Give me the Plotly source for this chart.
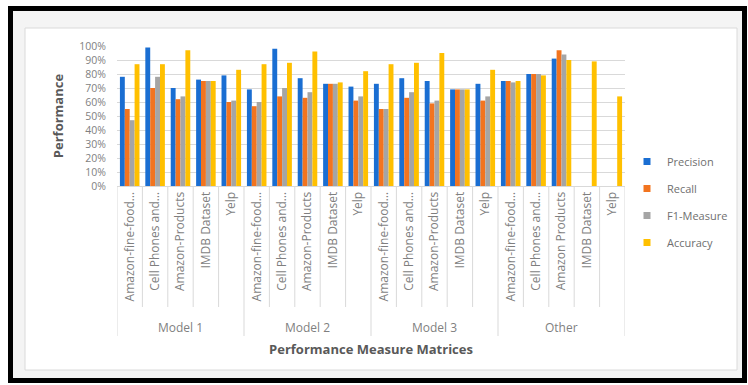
import plotly.graph_objects as go

groups = ["Model 1"] * 5 + ["Model 2"] * 5 + ["Model 3"] * 5 + ["Other"] * 5
datasets = [
    "Amazon-fine-food…", "Cell Phones and…", "Amazon-Products", "IMDB Dataset", "Yelp",
    "Amazon-fine-food…", "Cell Phones and…", "Amazon-Products", "IMDB Dataset", "Yelp",
    "Amazon-fine-food…", "Cell Phones and…", "Amazon-Products", "IMDB Dataset", "Yelp",
    "Amazon-fine-food…", "Cell Phones and…", "Amazon Products", "IMDB Dataset", "Yelp",
]
precision = [78, 99, 70, 76, 79, 69, 98, 77, 73, 71, 73, 77, 75, 69, 73, 75, 80, 91, None, None]
recall = [55, 70, 62, 75, 60, 57, 64, 63, 73, 61, 55, 63, 59, 69, 61, 75, 80, 97, None, None]
f1_measure = [47, 78, 64, 75, 61, 60, 70, 67, 73, 64, 55, 67, 61, 69, 64, 74, 80, 94, None, None]
accuracy = [87, 87, 97, 75, 83, 87, 88, 96, 74, 82, 87, 88, 95, 69, 83, 75, 79, 90, 89, 64]

series = [
    ("Precision", precision, "#1A6ED2"),
    ("Recall", recall, "#F2741F"),
    ("F1-Measure", f1_measure, "#A5A5A5"),
    ("Accuracy", accuracy, "#FFC000"),
]

W, H = 748, 385
L, R, T, B = 117, 625, 46, 186
pw, ph = R - L, B - T


def px(x):
    return (x - L) / pw


def py(y):
    return (B - y) / ph


idx = list(range(len(datasets)))

fig = go.Figure()
for i, (name, vals, col) in enumerate(series):
    fig.add_trace(go.Bar(
        x=idx, y=vals, name=name, marker_color=col,
        marker_line_width=0, showlegend=False,
    ))
for i, (name, vals, col) in enumerate(series):
    fig.add_trace(go.Scatter(
        x=[idx[0]], y=[None], name=name, mode="markers",
        marker=dict(symbol="square", size=7, color=col), legendgroup=str(i),
        showlegend=True, hoverinfo="skip",
    ))

font = "'Open Sans', sans-serif"
grid = "#D9D9D9"
shapes = [
    dict(type="rect", xref="paper", yref="paper", x0=px(10.5), x1=px(744.5),
         y0=py(380.5), y1=py(8.5), line=dict(color="black", width=5),
         fillcolor="#F4F4F4", layer="below"),
    dict(type="rect", xref="paper", yref="paper", x0=px(25), x1=px(737),
         y0=py(370), y1=py(28), line=dict(color="#DADADA", width=1),
         fillcolor="#FFFFFF", layer="below"),
]
# separators between categories (short) and between groups (long)
for k in range(len(datasets) + 1):
    b = k - 0.5
    is_group = k == 0 or k == len(datasets) or groups[k] != groups[k - 1]
    shapes.append(dict(type="line", xref="x", yref="paper", x0=b, x1=b,
                       y0=0, y1=py(336 if is_group else 307),
                       line=dict(color=grid, width=1)))

annotations = []
seen = []
for g in groups:
    if g not in seen:
        seen.append(g)
for g in seen:
    pos = [i for i, gg in zip(idx, groups) if gg == g]
    annotations.append(dict(x=sum(pos) / len(pos), xref="x", y=py(327), yref="paper",
                            text=g, showarrow=False, yanchor="middle",
                            font=dict(size=12, color="#7F7F7F")))

fig.update_layout(
    width=W, height=H,
    margin=dict(l=L, r=W - R, t=T, b=H - B),
    paper_bgcolor="white", plot_bgcolor="rgba(0,0,0,0)",
    barmode="group", bargap=0.23, bargroupgap=0,
    font=dict(family=font, size=11, color="#7F7F7F"),
    shapes=shapes, annotations=annotations,
    showlegend=True,
    legend=dict(x=px(627), y=py(147), xanchor="left", yanchor="top",
                bgcolor="rgba(0,0,0,0)", font=dict(size=11, color="#6F6F6F"),
                tracegroupgap=8, itemwidth=30),
    xaxis=dict(range=[-0.5, len(datasets) - 0.5], tickmode="array",
               tickvals=idx, ticktext=datasets, ticks="", tickangle=-90,
               showgrid=False, zeroline=False,
               showline=True, linecolor=grid,
               tickfont=dict(size=12, color="#7F7F7F"),
               title=dict(text="<b>Performance Measure Matrices</b>",
                          font=dict(size=13, color="#595959"), standoff=44)),
    yaxis=dict(range=[0, 100], dtick=10, ticksuffix="%", showgrid=True,
               gridcolor=grid, zeroline=False, showline=False,
               ticklabelstandoff=10,
               tickfont=dict(size=10.5, color="#7F7F7F"),
               title=dict(text="<b>Performance</b>",
                          font=dict(size=13, color="#595959"), standoff=12)),
)

fig.write_html("out.html")
